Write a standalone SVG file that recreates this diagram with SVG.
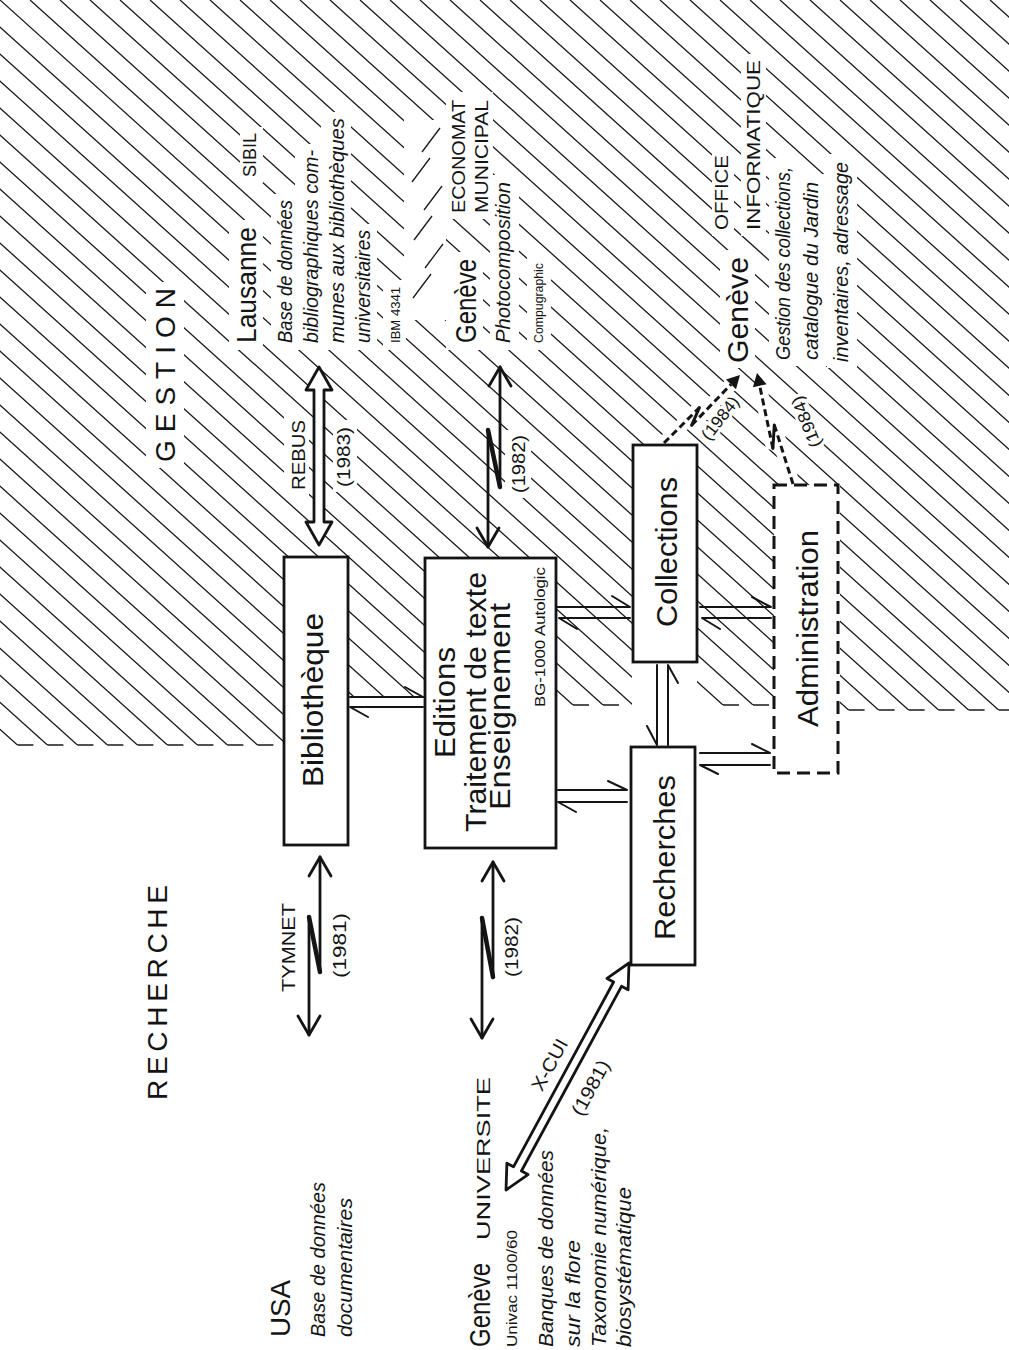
<svg xmlns="http://www.w3.org/2000/svg" width="1009" height="1350" viewBox="0 0 1009 1350">
<style>
.t{font-family:"Liberation Sans",Arial,Helvetica,sans-serif;fill:#141414}
.i{font-style:italic}
.box{fill:#fff;stroke:#141414;stroke-width:2.8}
.ln{fill:none;stroke:#141414;stroke-width:2;stroke-linecap:round;stroke-linejoin:round}
.hd{fill:none;stroke:#141414;stroke-width:2.8;stroke-linecap:round;stroke-linejoin:round}
.bolt{fill:none;stroke:#141414;stroke-width:4.5;stroke-linecap:round}
.dash{fill:none;stroke:#141414;stroke-width:3;stroke-dasharray:7 4}
.halo{fill:none;stroke:#fff;stroke-width:14}
.hatch{fill:none;stroke:#1a1a1a;stroke-width:1.3}
</style>
<defs>
<clipPath id="hz">
<polygon points="0,0 1009,0 1009,710 840,710 840,485 775,485 775,705 697,705 697,445 632,445 632,705 555,705 555,559 425,559 425,697 348,697 348,557 285,557 285,745 0,745"/>
</clipPath>
</defs>
<rect width="1009" height="1350" fill="#fff"/>
<g id="hatching">
<path class="hatch" clip-path="url(#hz)" d="M-840 0l833 750M-810 0l833 750M-780 0l833 750M-750 0l833 750M-720 0l833 750M-690 0l833 750M-660 0l833 750M-630 0l833 750M-600 0l833 750M-570 0l833 750M-540 0l833 750M-510 0l833 750M-480 0l833 750M-450 0l833 750M-420 0l833 750M-390 0l833 750M-360 0l833 750M-330 0l833 750M-300 0l833 750M-270 0l833 750M-240 0l833 750M-210 0l833 750M-180 0l833 750M-150 0l833 750M-120 0l833 750M-90 0l833 750M-60 0l833 750M-30 0l833 750M0 0l833 750M30 0l833 750M60 0l833 750M90 0l833 750M120 0l833 750M150 0l833 750M180 0l833 750M210 0l833 750M240 0l833 750M270 0l833 750M300 0l833 750M330 0l833 750M360 0l833 750M390 0l833 750M420 0l833 750M450 0l833 750M480 0l833 750M510 0l833 750M540 0l833 750M570 0l833 750M600 0l833 750M630 0l833 750M660 0l833 750M690 0l833 750M720 0l833 750M750 0l833 750M780 0l833 750M810 0l833 750M840 0l833 750M870 0l833 750M900 0l833 750M930 0l833 750M960 0l833 750M990 0l833 750M1020 0l833 750"/>
<path class="hatch" d="M17.4 745h16M47.4 745h16M77.4 745h16M107.4 745h16M137.4 745h16M167.4 745h16M197.4 745h16M227.4 745h16M257.4 745h16M354.2 697h16M384.2 697h16M414.2 697h10.8M573 705h16M603 705h16M723 705h16M753 705h16M848.6 710h16M878.6 710h16M908.6 710h16M938.6 710h16M968.6 710h16M998.6 710h10.4"/>
<g fill="#fff">
<rect x="146" y="282" width="38" height="186"/>
<rect x="229" y="220" width="34" height="130"/>
<rect x="240" y="127" width="23" height="56"/>
<rect x="271" y="194" width="28" height="156"/>
<rect x="295" y="144" width="30" height="206"/>
<rect x="321" y="112" width="30" height="238"/>
<rect x="349" y="224" width="28" height="126"/>
<rect x="383" y="280" width="23" height="70"/>
<rect x="404" y="120" width="42" height="200"/>
<rect x="446" y="252" width="37" height="98"/>
<rect x="446" y="92" width="47" height="127"/>
<rect x="490" y="175" width="29" height="175"/>
<rect x="527" y="256" width="24" height="94"/>
<rect x="720" y="250" width="35" height="118"/>
<rect x="712" y="148" width="22" height="88"/>
<rect x="741" y="54" width="25" height="182"/>
<rect x="769" y="158" width="29" height="208"/>
<rect x="798" y="174" width="29" height="192"/>
<rect x="827" y="154" width="30" height="214"/>
<rect x="284" y="414" width="25" height="82"/>
<rect x="333" y="420" width="24" height="72"/>
<rect x="505" y="430" width="26" height="68"/>
</g>
<path class="hatch" d="M422 152L440 128M412 182L430 158M424 210L442 186M414 240L432 216M425 268L443 244M413 298L431 274"/>
</g>
<g id="zone-labels">
<text class="t" transform="translate(175,462) rotate(-90)" font-size="28" textLength="174" lengthAdjust="spacing">GESTION</text>
<text class="t" transform="translate(167,1100) rotate(-90)" font-size="28" textLength="215" lengthAdjust="spacing">RECHERCHE</text>
</g>
<g id="connectors">
<polygon class="hd" style="fill:#fff" points="319,367 332,390 324,390 324,522 332,522 319,545 306,522 314,522 314,390 306,390"/>
<g id="photocomposition-link">
<polyline class="hd" points="489,386 500,367 511,386"/>
<path class="hd" d="M500 367V487M488 430V547"/>
<path class="bolt" d="M500 487L488 430"/>
<polyline class="hd" points="477,528 488,547 499,528"/>
</g>
<g id="tymnet-link">
<polyline class="hd" points="309,876 320,857 331,876"/>
<path class="hd" d="M320 857V972M309 917V1035"/>
<path class="bolt" d="M320 972L309 917"/>
<polyline class="hd" points="298,1016 309,1035 320,1016"/>
</g>
<g id="universite-link">
<polyline class="hd" points="482,881 493,862 504,881"/>
<path class="hd" d="M493 862V977M482 918V1038"/>
<path class="bolt" d="M493 977L482 918"/>
<polyline class="hd" points="471,1019 482,1038 493,1019"/>
</g>
<polygon id="xcui-link" class="hd" style="fill:#fff" points="506,1190 528,1174.6 521.4,1171 621.5,986.3 628.1,989.8 629,963 607,978.4 613.6,982 513.5,1166.8 506.9,1163.2"/>
<g id="harpoons">
<path class="ln" d="M350 697H423L405 687M423 707H350L368 717"/>
<path class="ln" d="M557 607H630L612 596M630 618H559L577 629"/>
<path class="ln" d="M700 607H771L752 597M771 618H702L720 629"/>
<path class="ln" d="M558 790H627L608 781M627 802H558L576 812"/>
<path class="ln" d="M700 753H770L752 744M770 765H700L718 774"/>
<path class="ln" d="M657 665V745L647 726M668 745V665L678 683"/>
</g>
<g id="office-links">
<path class="halo" d="M664 443L699.4 407.6L691.6 425.3L731 384.4"/>
<path class="halo" d="M793 484L774.3 424.9L772.9 448.4L759.7 385.7"/>
<path class="dash" d="M664 443L699.4 407.6M691.6 425.3L731 384.4"/>
<path class="bolt" style="stroke-width:3" d="M699.4 407.6L691.6 425.3"/>
<polygon fill="#141414" points="740,375 736,389.2 726,379.6"/>
<path class="dash" d="M793 484L774.3 424.9M772.9 448.4L759.7 385.7"/>
<path class="bolt" style="stroke-width:3" d="M774.3 424.9L772.9 448.4"/>
<polygon fill="#141414" points="757,373 766.6,384.3 752.9,387.2"/>
</g>
</g>
<g id="connector-labels">
<text class="t" transform="translate(305,490) rotate(-90)" font-size="19" textLength="70" lengthAdjust="spacingAndGlyphs">REBUS</text>
<text class="t" transform="translate(350,487) rotate(-90)" font-size="19" textLength="60" lengthAdjust="spacingAndGlyphs">(1983)</text>
<text class="t" transform="translate(525,493) rotate(-90)" font-size="19" textLength="58" lengthAdjust="spacingAndGlyphs">(1982)</text>
<text class="t" transform="translate(295,992) rotate(-90)" font-size="19" textLength="89" lengthAdjust="spacingAndGlyphs">TYMNET</text>
<text class="t" transform="translate(346,978) rotate(-90)" font-size="19" textLength="65" lengthAdjust="spacingAndGlyphs">(1981)</text>
<text class="t" transform="translate(518,977) rotate(-90)" font-size="19" textLength="60" lengthAdjust="spacingAndGlyphs">(1982)</text>
<text class="t" transform="translate(550,1065) rotate(-61.5)" font-size="19" text-anchor="middle" y="6" textLength="56" lengthAdjust="spacingAndGlyphs">X-CUI</text>
<text class="t" transform="translate(591,1088) rotate(-61.5)" font-size="19" text-anchor="middle" y="6" textLength="60" lengthAdjust="spacingAndGlyphs">(1981)</text>
<text class="t" transform="translate(720,418) rotate(-52)" font-size="17" text-anchor="middle" y="6" stroke="#fff" stroke-width="6" paint-order="stroke" textLength="50" lengthAdjust="spacingAndGlyphs">(1984)</text>
<text class="t" transform="translate(806,422) rotate(-112)" font-size="17" text-anchor="middle" y="6" stroke="#fff" stroke-width="6" paint-order="stroke" textLength="54" lengthAdjust="spacingAndGlyphs">(1984)</text>
</g>
<g id="bibliotheque">
<rect class="box" x="284" y="557" width="64" height="288"/>
<text class="t" transform="translate(323,787) rotate(-90)" font-size="30" textLength="174" lengthAdjust="spacingAndGlyphs">Bibliothèque</text>
</g>
<g id="editions">
<rect class="box" x="425" y="558" width="131" height="290"/>
<text class="t" transform="translate(455,758) rotate(-90)" font-size="30" textLength="111" lengthAdjust="spacingAndGlyphs">Editions</text>
<text class="t" transform="translate(486,832) rotate(-90)" font-size="30" textLength="260" lengthAdjust="spacingAndGlyphs">Traitement de texte</text>
<text class="t" transform="translate(510,810) rotate(-90)" font-size="30" textLength="207" lengthAdjust="spacingAndGlyphs">Enseignement</text>
<text class="t" transform="translate(545,707) rotate(-90)" font-size="15" textLength="140" lengthAdjust="spacingAndGlyphs">BG-1000 Autologic</text>
</g>
<g id="collections">
<rect class="box" x="633" y="445" width="64" height="217"/>
<text class="t" transform="translate(677,627) rotate(-90)" font-size="30" textLength="150" lengthAdjust="spacingAndGlyphs">Collections</text>
</g>
<g id="recherches">
<rect class="box" x="631" y="747" width="64" height="218"/>
<text class="t" transform="translate(675,940) rotate(-90)" font-size="30" textLength="165" lengthAdjust="spacingAndGlyphs">Recherches</text>
</g>
<g id="administration">
<rect class="box" x="774" y="485" width="64" height="288" stroke-dasharray="13 7" style="stroke-width:3"/>
<text class="t" transform="translate(818,727) rotate(-90)" font-size="30" textLength="197" lengthAdjust="spacingAndGlyphs">Administration</text>
</g>
<g id="lausanne">
<text class="t" transform="translate(256,343) rotate(-90)" font-size="28" textLength="116" lengthAdjust="spacingAndGlyphs">Lausanne</text>
<text class="t" transform="translate(256,177) rotate(-90)" font-size="18" textLength="44" lengthAdjust="spacingAndGlyphs">SIBIL</text>
<text class="t i" transform="translate(292,343) rotate(-90)" font-size="20" textLength="143" lengthAdjust="spacingAndGlyphs">Base de données</text>
<text class="t i" transform="translate(318,343) rotate(-90)" font-size="20" textLength="193" lengthAdjust="spacingAndGlyphs">bibliographiques com-</text>
<text class="t i" transform="translate(344,343) rotate(-90)" font-size="20" textLength="225" lengthAdjust="spacingAndGlyphs">munes aux bibliothèques</text>
<text class="t i" transform="translate(370,343) rotate(-90)" font-size="20" textLength="113" lengthAdjust="spacingAndGlyphs">universitaires</text>
<text class="t" transform="translate(400,343) rotate(-90)" font-size="13" textLength="56" lengthAdjust="spacingAndGlyphs">IBM 4341</text>
</g>
<g id="geneve-economat">
<text class="t" transform="translate(476,343) rotate(-90)" font-size="30" textLength="84" lengthAdjust="spacingAndGlyphs">Genève</text>
<text class="t" transform="translate(465,213) rotate(-90)" font-size="19" textLength="113" lengthAdjust="spacingAndGlyphs">ECONOMAT</text>
<text class="t" transform="translate(488,213) rotate(-90)" font-size="19" textLength="113" lengthAdjust="spacingAndGlyphs">MUNICIPAL</text>
<text class="t i" transform="translate(510,343) rotate(-90)" font-size="20" textLength="161" lengthAdjust="spacingAndGlyphs">Photocomposition</text>
<text class="t" transform="translate(543,343) rotate(-90)" font-size="13" textLength="80" lengthAdjust="spacingAndGlyphs">Compugraphic</text>
</g>
<g id="geneve-office">
<text class="t" transform="translate(748,363) rotate(-90)" font-size="30" textLength="106" lengthAdjust="spacingAndGlyphs">Genève</text>
<text class="t" transform="translate(728,230) rotate(-90)" font-size="19" textLength="75" lengthAdjust="spacingAndGlyphs">OFFICE</text>
<text class="t" transform="translate(760,230) rotate(-90)" font-size="19" textLength="170" lengthAdjust="spacingAndGlyphs">INFORMATIQUE</text>
<text class="t i" transform="translate(790,360) rotate(-90)" font-size="20" textLength="193" lengthAdjust="spacingAndGlyphs">Gestion des collections,</text>
<text class="t i" transform="translate(818,360) rotate(-90)" font-size="20" textLength="178" lengthAdjust="spacingAndGlyphs">catalogue du Jardin</text>
<text class="t i" transform="translate(848,362) rotate(-90)" font-size="20" textLength="200" lengthAdjust="spacingAndGlyphs">inventaires, adressage</text>
</g>
<g id="usa">
<text class="t" transform="translate(290,1337) rotate(-90)" font-size="28" textLength="57" lengthAdjust="spacingAndGlyphs">USA</text>
<text class="t i" transform="translate(325,1337) rotate(-90)" font-size="20" textLength="155" lengthAdjust="spacingAndGlyphs">Base de données</text>
<text class="t i" transform="translate(352,1337) rotate(-90)" font-size="20" textLength="139" lengthAdjust="spacingAndGlyphs">documentaires</text>
</g>
<g id="geneve-universite">
<text class="t" transform="translate(490,1347) rotate(-90)" font-size="30" textLength="84" lengthAdjust="spacingAndGlyphs">Genève</text>
<text class="t" transform="translate(490,1240) rotate(-90)" font-size="18" textLength="163" lengthAdjust="spacingAndGlyphs">UNIVERSITE</text>
<text class="t" transform="translate(517,1347) rotate(-90)" font-size="15" textLength="117" lengthAdjust="spacingAndGlyphs">Univac 1100/60</text>
<text class="t i" transform="translate(553,1347) rotate(-90)" font-size="20" textLength="197" lengthAdjust="spacingAndGlyphs">Banques de données</text>
<text class="t i" transform="translate(580,1347) rotate(-90)" font-size="20" textLength="107" lengthAdjust="spacingAndGlyphs">sur la flore</text>
<text class="t i" transform="translate(606,1347) rotate(-90)" font-size="20" textLength="220" lengthAdjust="spacingAndGlyphs">Taxonomie numérique,</text>
<text class="t i" transform="translate(631,1347) rotate(-90)" font-size="20" textLength="160" lengthAdjust="spacingAndGlyphs">biosystématique</text>
</g>
</svg>
